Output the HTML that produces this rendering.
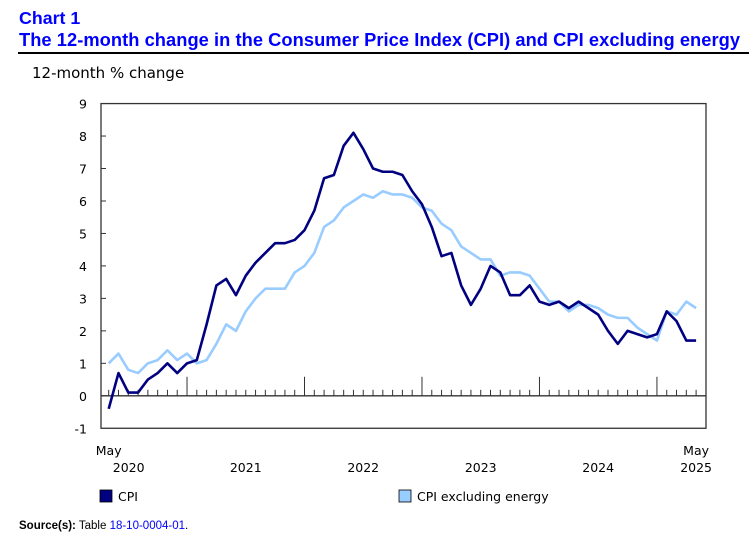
<!DOCTYPE html>
<html><head><meta charset="utf-8"><style>
body{margin:0;background:#fff;width:749px;height:539px;overflow:hidden;position:relative;font-family:"DejaVu Sans","Liberation Sans",sans-serif}
.t{position:absolute;left:19px;color:#0000ff;font:bold 17.8px "Liberation Sans",sans-serif;white-space:nowrap}
</style></head><body>
<div class="t" style="top:8px">Chart 1</div>
<div class="t" style="top:29px;font-size:18.3px;letter-spacing:0.05px">The 12-month change in the Consumer Price Index (CPI) and CPI excluding energy</div>
<div style="position:absolute;left:18px;top:52px;width:731px;height:2px;background:#000"></div>
<svg id="c" width="749" height="539" style="position:absolute;left:0;top:0"></svg>
<div style="position:absolute;left:19px;top:520px;font:11.5px 'Liberation Sans',sans-serif;color:#000"><b>Source(s):</b> Table <span style="color:#0000ff">18-10-0004-01</span>.</div>
<script>
const cpi=[-0.4,0.7,0.1,0.1,0.5,0.7,1.0,0.7,
1.0,1.1,2.2,3.4,3.6,3.1,3.7,4.1,4.4,4.7,4.7,4.8,
5.1,5.7,6.7,6.8,7.7,8.1,7.6,7.0,6.9,6.9,6.8,6.3,
5.9,5.2,4.3,4.4,3.4,2.8,3.3,4.0,3.8,3.1,3.1,3.4,
2.9,2.8,2.9,2.7,2.9,2.7,2.5,2.0,1.6,2.0,1.9,1.8,
1.9,2.6,2.3,1.7,1.7];
const cpiExEnergy=[1.0,1.3,0.8,0.7,1.0,1.1,1.4,1.1,
1.3,1.0,1.1,1.6,2.2,2.0,2.6,3.0,3.3,3.3,3.3,3.8,
4.0,4.4,5.2,5.4,5.8,6.0,6.2,6.1,6.3,6.2,6.2,6.1,
5.8,5.7,5.3,5.1,4.6,4.4,4.2,4.2,3.7,3.8,3.8,3.7,
3.3,2.9,2.9,2.6,2.8,2.8,2.7,2.5,2.4,2.4,2.1,1.9,
1.7,2.6,2.5,2.9,2.7];
const yTicks=[-1,0,1,2,3,4,5,6,7,8,9];
const years=["2021","2022","2023","2024","2025"];
const NS="http://www.w3.org/2000/svg",svg=document.getElementById('c');
const x0=108.7,dx=9.79,y0=395.8,dy=32.47;
const X=i=>x0+i*dx, Y=v=>y0-v*dy;
function el(t,a,p){const e=document.createElementNS(NS,t);for(const k in a)e.setAttribute(k,a[k]);(p||svg).appendChild(e);return e;}
const box=el('rect',{x:101,y:Y(9),width:605,height:Y(-1)-Y(9),fill:'none',stroke:'#333','stroke-width':1.3});


const lab=el('text',{x:32,y:78,'font-size':15,fill:'#000'});lab.textContent='12-month % change';


yTicks.forEach(v=>{
 const t=el('text',{x:87,y:Y(v)+5,'font-size':12.5,'text-anchor':'end'});t.textContent=v;
 
 
 if(v>-1&&v<9){const l=el('line',{x1:101,x2:106,y1:Y(v),y2:Y(v),stroke:'#333'});
 
 }
});
const z=el('line',{x1:101,x2:706,y1:Y(0),y2:Y(0),stroke:'#333','stroke-width':1.3});


for(let i=0;i<cpi.length;i++){
 const major=(i+4)%12==0;
 const l=el('line',{x1:X(i),x2:X(i),y1:Y(0),y2:Y(0)-(major?19:6),stroke:'#333'});
 
 
}
function txt(s,x,y,name){const t=el('text',{x:x,y:y,'font-size':12.5,'text-anchor':'middle'});t.textContent=s;
 
 }
txt('May',X(0),455,'x-month-label');txt('2020',X(0)+20,472,'x-year-label');
years.slice(0,4).forEach((y,k)=>txt(y,X(8+12*k+6),472,'x-year-label'));
txt('May',X(60),455,'x-month-label');txt('2025',X(60),472,'x-year-label');
function line(d,c,name){const p=el('polyline',{points:d.map((v,i)=>X(i)+','+Y(v)).join(' '),fill:'none',stroke:c,'stroke-width':2.6,'stroke-linejoin':'round'});
 
 }
line(cpiExEnergy,'#99ccff','series-cpi-excluding-energy');
line(cpi,'#000080','series-cpi');
function leg(x,c,s,name){const g=el('g',{});
 
 
 el('rect',{x:x,y:490,width:12,height:12,fill:c,stroke:'#000','stroke-width':0.8},g);
 const t=el('text',{x:x+18,y:501,'font-size':12.5},g);t.textContent=s;}
leg(100,'#000080','CPI','legend-cpi');
leg(399,'#99ccff','CPI excluding energy','legend-cpi-excluding-energy');
</script>
</body></html>
